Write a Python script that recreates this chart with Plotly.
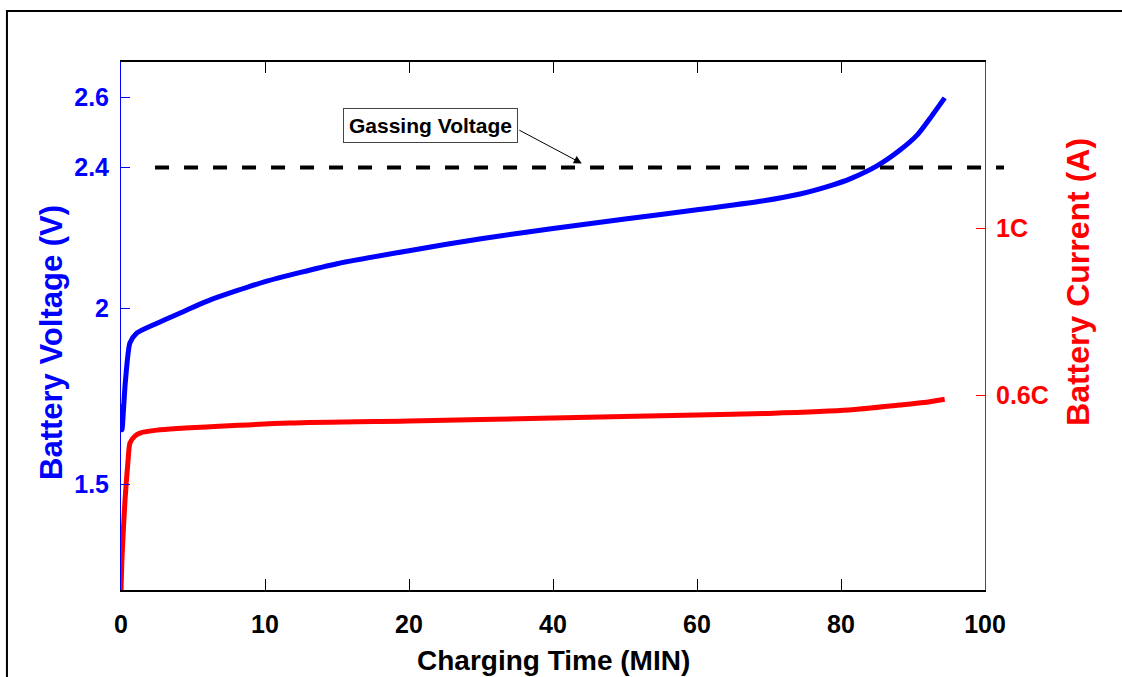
import numpy as np
import plotly.graph_objects as go

# Time axis: equally spaced ticks that stand for these minute values
TIME_TICK_POS = [0, 1, 2, 3, 4, 5, 6]
TIME_TICK_MIN = [0, 10, 20, 40, 60, 80, 100]
TIME_TICK_TEXT = ["0", "10", "20", "40", "60", "80", "100"]

# Battery voltage during charging (minutes, volts)
volt_time = [0.0, 0.07, 0.3, 0.62, 1.09, 2.5, 4.0, 6.2, 10, 15, 20, 30, 40,
             50, 60, 69, 74.3, 78.9, 81.25, 85.0, 88.2, 90.6, 92.4, 94.4]
volt = [1.728, 1.655, 1.79, 1.902, 1.930, 1.958, 1.985, 2.024, 2.076, 2.127,
        2.164, 2.198, 2.227, 2.254, 2.280, 2.305, 2.325, 2.351, 2.368, 2.405,
        2.450, 2.493, 2.541, 2.598]

# Battery current during charging (minutes, C-rate)
curr_time = [0.0, 0.07, 0.28, 0.49, 0.62, 0.97, 1.32, 2.5, 11.7, 20, 40, 60,
             70, 81.1, 88.2, 91.5, 94.4]
curr = [0.128, 0.212, 0.349, 0.444, 0.485, 0.502, 0.509, 0.516, 0.533, 0.538,
        0.545, 0.552, 0.556, 0.564, 0.576, 0.582, 0.590]

VOLT_TICKS = [1.5, 2.0, 2.4, 2.6, 2.7]
VOLT_TICK_TEXT = ["1.5", "2", "2.4", "2.6", ""]
CURR_TICKS = [0.6, 1.0, 1.398]
CURR_TICK_TEXT = ["0.6C", "1C", ""]

GASSING_V = 2.4
GASSING_LABEL = "Gassing Voltage"
ARROW_TIP_MIN = 44
LABEL_MIN = 23
LABEL_V = 2.52


def to_axis(minutes):
    return np.interp(minutes, TIME_TICK_MIN, TIME_TICK_POS)


FONT = "Liberation Sans, Arial, sans-serif"
BLUE = "#0000ff"
RED = "#ff0000"

fig = go.Figure()
fig.add_trace(go.Scatter(
    x=to_axis(volt_time), y=volt, mode="lines",
    line=dict(color=BLUE, width=5, shape="spline", smoothing=0.6),
    yaxis="y", showlegend=False,
))
fig.add_trace(go.Scatter(
    x=to_axis(curr_time), y=curr, mode="lines",
    line=dict(color=RED, width=5, shape="spline", smoothing=0.6),
    yaxis="y2", showlegend=False,
))

fig.update_layout(
    width=1122, height=677,
    margin=dict(l=121, r=137, t=62, b=87),
    paper_bgcolor="white", plot_bgcolor="white",
    font=dict(family=FONT),
    xaxis=dict(
        range=[0, 6], tickvals=TIME_TICK_POS, ticktext=TIME_TICK_TEXT,
        ticks="inside", ticklen=11, tickwidth=1, tickcolor="black",
        showline=True, linecolor="black", linewidth=1.5, mirror="ticks",
        showgrid=False, zeroline=False, ticklabelstandoff=11,
        tickfont=dict(family=FONT, size=25, color="black", weight="bold"),
    ),
    yaxis=dict(
        range=[1.2, 2.7], tickvals=VOLT_TICKS, ticktext=VOLT_TICK_TEXT,
        ticks="inside", ticklen=9, tickwidth=1, tickcolor=BLUE,
        showline=True, linecolor=BLUE, linewidth=1,
        showgrid=False, zeroline=False, ticklabelstandoff=6,
        tickfont=dict(family=FONT, size=25, color=BLUE, weight="bold"),
    ),
    yaxis2=dict(
        overlaying="y", side="right",
        range=[0.133, 1.398], tickvals=CURR_TICKS, ticktext=CURR_TICK_TEXT,
        ticks="inside", ticklen=9, tickwidth=1, tickcolor=RED,
        showline=True, linecolor=RED, linewidth=1,
        showgrid=False, zeroline=False, ticklabelstandoff=5,
        tickfont=dict(family=FONT, size=25, color=RED, weight="bold"),
    ),
)

# gassing-voltage reference line, running past the right axis
fig.add_shape(
    type="line", xref="paper", yref="y",
    x0=0.0394, x1=1.022, y0=GASSING_V, y1=GASSING_V,
    line=dict(color="black", width=4, dash="14px,15px"),
)

# outer frame
fig.add_shape(
    type="rect", xref="paper", yref="paper",
    x0=-0.132, x1=1.17, y0=-0.2, y1=1.0966,
    line=dict(color="black", width=2), fillcolor="rgba(0,0,0,0)",
)

# label box and its pointer
fig.add_annotation(
    x=to_axis(LABEL_MIN), y=LABEL_V, xref="x", yref="y",
    text=GASSING_LABEL, showarrow=False,
    font=dict(family=FONT, size=21, color="black", weight="bold"),
    bgcolor="white", bordercolor="#444444", borderwidth=1, borderpad=5,
)
fig.add_annotation(
    x=to_axis(ARROW_TIP_MIN), y=GASSING_V + 0.012, xref="x", yref="y",
    text="", showarrow=True, arrowhead=2, arrowsize=1.6, arrowwidth=1,
    arrowcolor="black", ax=-64, ay=-34,
)

# axis titles
fig.add_annotation(
    x=0.5, y=-0.134, xref="paper", yref="paper", text="Charging Time (MIN)",
    showarrow=False, xanchor="center", yanchor="middle",
    font=dict(family=FONT, size=28, color="black", weight="bold"),
)
fig.add_annotation(
    x=-0.0799, y=0.4697, xref="paper", yref="paper", text="Battery Voltage (V)",
    showarrow=False, textangle=-90, xanchor="center", yanchor="middle",
    font=dict(family=FONT, size=31, color=BLUE, weight="bold"),
)
fig.add_annotation(
    x=1.1076, y=0.5833, xref="paper", yref="paper", text="Battery Current (A)",
    showarrow=False, textangle=-90, xanchor="center", yanchor="middle",
    font=dict(family=FONT, size=32, color=RED, weight="bold"),
)

fig.write_html("out.html")
